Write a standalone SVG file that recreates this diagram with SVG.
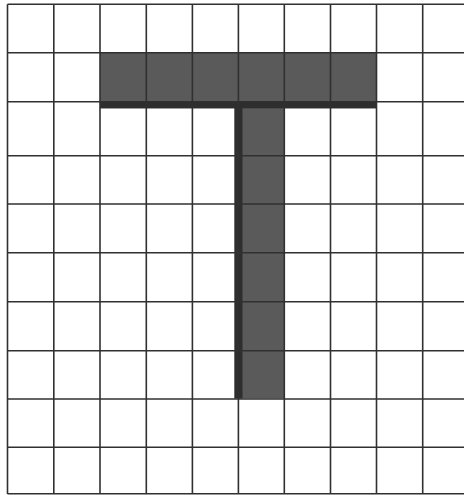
<svg xmlns="http://www.w3.org/2000/svg" width="464" height="495" viewBox="0 0 464 495">
  <style>
    .bg { fill: #ffffff; }
    .fill { fill: #5a5a5a; }
    .shadow { fill: #2e2e2e; }
    .grid line { stroke: #303030; stroke-width: 1.6; }
  </style>
  <rect class="bg" x="0" y="0" width="464" height="495"/>
  <g id="t-shape">
    <rect class="fill" x="100" y="52.7" width="276.5" height="55.6"/>
    <rect class="fill" x="234.5" y="101.7" width="49.8" height="296.8"/>
    <rect class="shadow" x="100" y="101.7" width="276.5" height="6.6"/>
    <rect class="shadow" x="234.5" y="101.7" width="8" height="296.8"/>
  </g>
  <g id="grid" class="grid">
    <line x1="7.5" y1="4.3" x2="7.5" y2="494"/>
    <line x1="53.8" y1="4.3" x2="53.8" y2="494"/>
    <line x1="100" y1="4.3" x2="100" y2="494"/>
    <line x1="146.3" y1="4.3" x2="146.3" y2="494"/>
    <line x1="192.4" y1="4.3" x2="192.4" y2="494"/>
    <line x1="238.4" y1="4.3" x2="238.4" y2="494"/>
    <line x1="284.3" y1="4.3" x2="284.3" y2="494"/>
    <line x1="330.5" y1="4.3" x2="330.5" y2="494"/>
    <line x1="376.5" y1="4.3" x2="376.5" y2="494"/>
    <line x1="422.7" y1="4.3" x2="422.7" y2="494"/>
    <line x1="7.5" y1="4.3" x2="464" y2="4.3"/>
    <line x1="7.5" y1="52.7" x2="464" y2="52.7"/>
    <line x1="7.5" y1="101.7" x2="464" y2="101.7"/>
    <line x1="7.5" y1="155.7" x2="464" y2="155.7"/>
    <line x1="7.5" y1="204" x2="464" y2="204"/>
    <line x1="7.5" y1="252.7" x2="464" y2="252.7"/>
    <line x1="7.5" y1="301.7" x2="464" y2="301.7"/>
    <line x1="7.5" y1="350.7" x2="464" y2="350.7"/>
    <line x1="7.5" y1="399" x2="464" y2="399"/>
    <line x1="7.5" y1="447.3" x2="464" y2="447.3"/>
    <line x1="7.5" y1="493.8" x2="464" y2="493.8"/>
  </g>
</svg>
